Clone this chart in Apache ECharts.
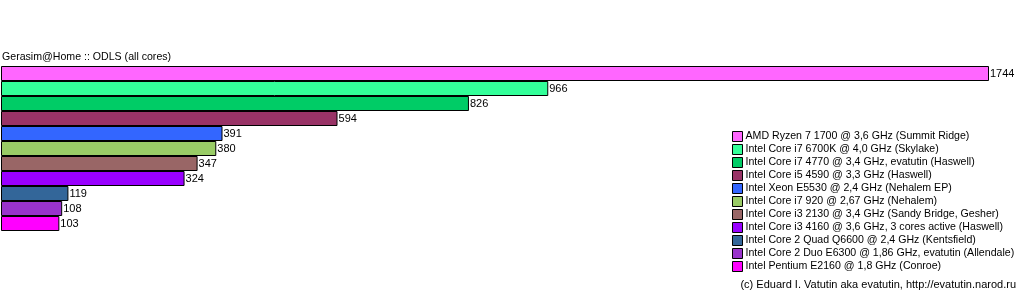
<!DOCTYPE html>
<html><head><meta charset="utf-8">
<script src="https://cdn.jsdelivr.net/npm/echarts@6/dist/echarts.min.js"></script>
<style>html,body{margin:0;padding:0;background:#fff}#c{width:1024px;height:300px}</style>
</head><body><div id="c"></div>
<script>
const titleText = "Gerasim@Home :: ODLS (all cores)";
const footerText = "(c) Eduard I. Vatutin aka evatutin, http://evatutin.narod.ru";
const names = [
  "AMD Ryzen 7 1700 @ 3,6 GHz (Summit Ridge)",
  "Intel Core i7 6700K @ 4,0 GHz (Skylake)",
  "Intel Core i7 4770 @ 3,4 GHz, evatutin (Haswell)",
  "Intel Core i5 4590 @ 3,3 GHz (Haswell)",
  "Intel Xeon E5530 @ 2,4 GHz (Nehalem EP)",
  "Intel Core i7 920 @ 2,67 GHz (Nehalem)",
  "Intel Core i3 2130 @ 3,4 GHz (Sandy Bridge, Gesher)",
  "Intel Core i3 4160 @ 3,6 GHz, 3 cores active (Haswell)",
  "Intel Core 2 Quad Q6600 @ 2,4 GHz (Kentsfield)",
  "Intel Core 2 Duo E6300 @ 1,86 GHz, evatutin (Allendale)",
  "Intel Pentium E2160 @ 1,8 GHz (Conroe)"
];
const values = [1744, 966, 826, 594, 391, 380, 347, 324, 119, 108, 103];
const colors = ["#FF66FF","#33FF99","#00CC66","#993366","#3366FF","#99CC66","#996666","#9900FF","#336699","#9933CC","#FF00FF"];

const FONT = "'Liberation Sans', Arial, sans-serif";
const series = names.map((n, i) => ({
  name: n,
  type: 'bar',
  stack: 'all',
  barCategoryGap: 0,
  data: values.map((v, j) => j === i ? v : null),
  itemStyle: { color: colors[i], borderColor: '#000', borderWidth: 1 },
  label: { show: true, position: 'right', distance: 1, color: '#000', fontFamily: FONT, fontSize: 11 },
  animation: false
}));

const chart = echarts.init(document.getElementById('c'), null, { renderer: 'canvas' });
chart.setOption({
  animation: false,
  backgroundColor: '#fff',
  title: [
    { text: titleText, left: 2, top: 52, padding: 0, textStyle: { fontFamily: FONT, fontSize: 10.6, fontWeight: 'normal', color: '#000' } },
    { text: footerText, right: 8, top: 279, padding: 0, textStyle: { fontFamily: FONT, fontSize: 11, fontWeight: 'normal', color: '#000' } }
  ],
  grid: { left: 1, top: 66, width: 988, height: 165, containLabel: false },
  xAxis: { type: 'value', min: 0, max: 1744, show: false },
  yAxis: { type: 'category', data: names, inverse: true, show: false },
  legend: {
    orient: 'vertical', left: 732, top: 131,
    itemWidth: 10, itemHeight: 10, itemGap: 2,
    icon: 'rect',
    itemStyle: { borderColor: '#000', borderWidth: 1 },
    textStyle: { fontFamily: FONT, fontSize: 10.6, lineHeight: 10, color: '#000', padding: [0, 0, 0, -2] },
    padding: 0,
    selectedMode: false,
    data: names
  },
  series: series
});
</script></body></html>
